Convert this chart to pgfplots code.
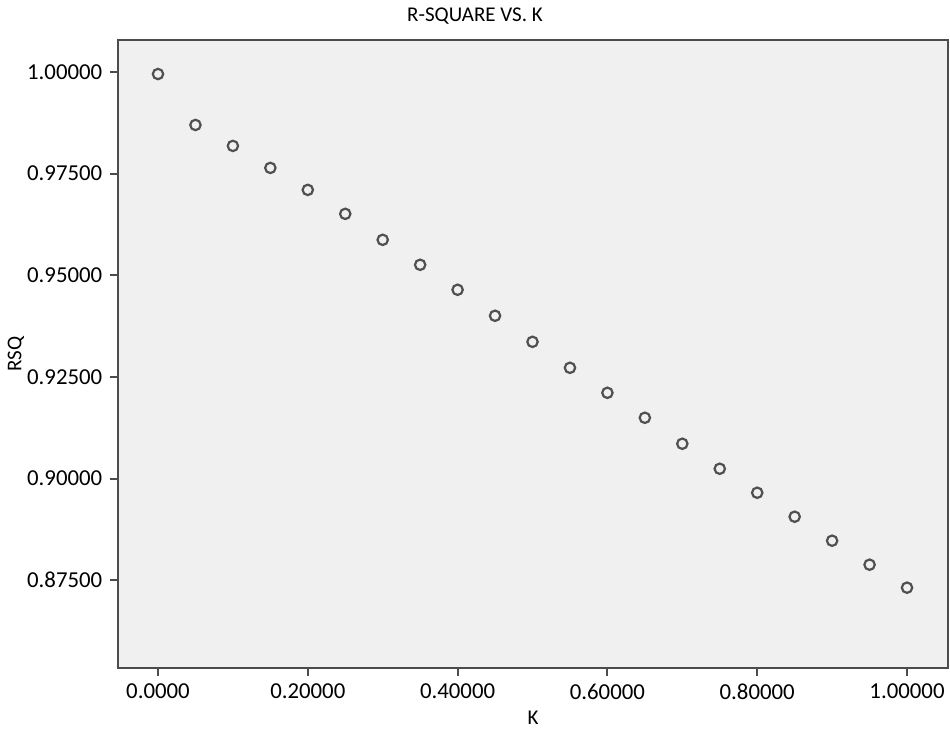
\documentclass[border=0pt]{standalone}
\usepackage{pgfplots}
\pgfplotsset{compat=1.18}
\usetikzlibrary{calc}
\usepackage{fontspec}
\setmainfont{Carlito}

\definecolor{panel}{HTML}{F0F0F0}
\definecolor{mk}{HTML}{505050}

\begin{document}
\begin{tikzpicture}
\fontsize{11}{13}\selectfont
\begin{axis}[
  name=ax,
  scale only axis,
  width=415pt, height=314pt,
  xmin=-0.0534, xmax=1.0547,
  ymin=0.8534, ymax=1.00787,
  axis background/.style={fill=panel},
  axis line style={draw=black!70, line width=1pt},
  xtick={0,0.2,0.4,0.6,0.8,1.0},
  xticklabels={0.0000,0.20000,0.40000,0.60000,0.80000,1.00000},
  ytick={0.875,0.9,0.925,0.95,0.975,1.0},
  yticklabels={0.87500,0.90000,0.92500,0.95000,0.97500,1.00000},
  tick align=outside,
  xtick pos=bottom, ytick pos=left,
  major tick length=4pt,
  tick style={draw=black!70, line width=1pt},
  tick label style={font=\fontsize{11.4}{13}\selectfont},
  xlabel={K}, ylabel={RSQ},
  label style={font=\fontsize{10.5}{12}\selectfont},
  xlabel style={yshift=2pt},
  ylabel style={yshift=-6pt},
  title={R-SQUARE VS. K},
  title style={font=\fontsize{10.5}{12}\selectfont, xshift=-29pt, yshift=-2pt},
]
\addplot[only marks, mark=o, mark size=2.6pt, mark options={draw=mk, line width=1.1pt}]
coordinates {
  (0.00, 0.99950)
  (0.05, 0.98697)
  (0.10, 0.98182)
  (0.15, 0.97641)
  (0.20, 0.97100)
  (0.25, 0.96511)
  (0.30, 0.95872)
  (0.35, 0.95258)
  (0.40, 0.94643)
  (0.45, 0.94004)
  (0.50, 0.93363)
  (0.55, 0.92724)
  (0.60, 0.92109)
  (0.65, 0.91495)
  (0.70, 0.90856)
  (0.75, 0.90241)
  (0.80, 0.89651)
  (0.85, 0.89061)
  (0.90, 0.88471)
  (0.95, 0.87881)
  (1.00, 0.87316)
};
\end{axis}
\pgfresetboundingbox
\path[use as bounding box] ($(ax.south west)+(-59pt,-31pt)$) rectangle ($(ax.north east)+(1pt,20pt)$);
\end{tikzpicture}
\end{document}
